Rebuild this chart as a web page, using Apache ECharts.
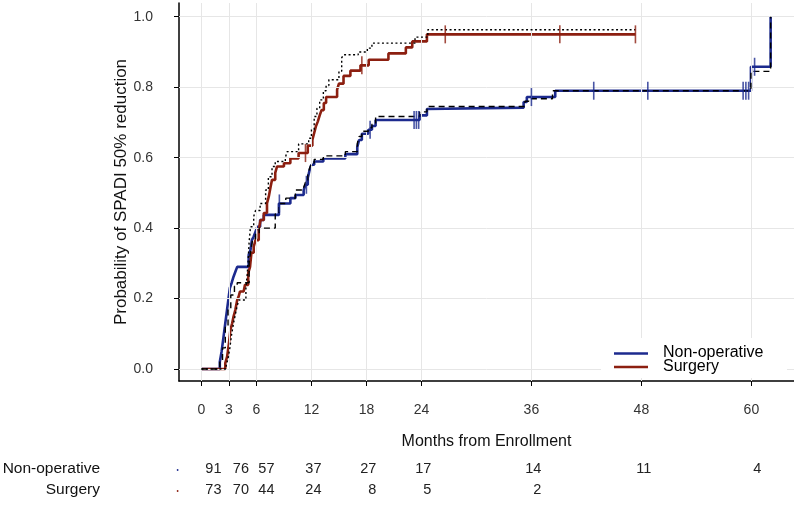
<!DOCTYPE html>
<html><head><meta charset="utf-8">
<script src="https://cdn.jsdelivr.net/npm/echarts@6/dist/echarts.min.js"></script>
<style>html,body{margin:0;padding:0;background:#fff}#c{width:794px;height:505px}</style>
</head><body><div id="c"></div>
<script>
// ---------- data ----------
const xTicks = [0, 3, 6, 12, 18, 24, 36, 48, 60];
const yTicks = [0, 0.2, 0.4, 0.6, 0.8, 1.0];

const nonopTime = [0, 2.0, 2.2, 2.4, 2.6, 2.8, 3.0, 3.1, 3.3, 3.5, 3.7, 3.9, 5.15, 5.35, 5.5, 5.7, 5.9, 6.1, 6.4, 6.8, 8.45, 9.7, 10.25, 11.15, 11.35, 11.6, 11.8, 12.0, 12.3, 13.3, 15.7, 17.0, 17.2, 17.5, 18.2, 18.6, 19.0, 23.8, 24.6, 24.8, 35.15, 35.5, 38.6, 59.95, 62.1];
const nonopProb = [0, 0.02, 0.05, 0.09, 0.13, 0.17, 0.21, 0.23, 0.245, 0.262, 0.276, 0.29, 0.324, 0.338, 0.366, 0.376, 0.39, 0.404, 0.423, 0.4375, 0.47, 0.485, 0.494, 0.508, 0.523, 0.542, 0.565, 0.58, 0.589, 0.598, 0.61, 0.63, 0.65, 0.668, 0.679, 0.69, 0.707, 0.72, 0.738, 0.742, 0.758, 0.772, 0.79, 0.858, 1.0];
const nonopCensor = [8.5, 11.45, 18.4, 23.2, 23.45, 23.7, 36.0, 42.8, 48.7, 59.1, 59.4, 59.7, 60.35];

const surgTime = [0, 2.6, 2.8, 3.0, 3.15, 3.35, 3.5, 3.7, 3.9, 4.05, 4.2, 4.6, 4.75, 5.1, 5.3, 5.45, 5.7, 5.9, 6.25, 6.45, 6.8, 7.15, 7.35, 7.55, 7.7, 8.05, 8.25, 9.0, 9.7, 10.6, 11.6, 12.1, 12.3, 12.5, 12.7, 12.9, 13.1, 13.35, 13.6, 14.8, 15.0, 15.5, 16.25, 17.35, 18.25, 20.4, 22.3, 23.0, 24.6, 47.35];
const surgProb = [0, 0.017, 0.035, 0.073, 0.11, 0.13, 0.149, 0.168, 0.196, 0.205, 0.22, 0.224, 0.239, 0.272, 0.29, 0.33, 0.347, 0.366, 0.395, 0.423, 0.443, 0.47, 0.49, 0.518, 0.537, 0.557, 0.575, 0.584, 0.598, 0.613, 0.634, 0.65, 0.67, 0.69, 0.703, 0.72, 0.735, 0.755, 0.772, 0.793, 0.81, 0.832, 0.847, 0.862, 0.878, 0.896, 0.913, 0.93, 0.95, 0.95];
const surgCensor = [11.35, 17.5, 26.6, 39.1, 47.35];

const adjNonopTime = [0, 2.0, 2.3, 2.6, 2.9, 3.2, 3.6, 3.9, 5.2, 5.4, 5.6, 5.9, 6.3, 8.05, 8.45, 9.2, 10.25, 11.15, 11.35, 11.6, 11.8, 12.0, 12.3, 13.3, 15.7, 17.0, 17.2, 17.5, 18.2, 18.6, 19.0, 23.8, 24.6, 35.3, 35.7, 38.3, 59.95, 62.1];
const adjNonopProb = [0, 0.02, 0.06, 0.12, 0.17, 0.21, 0.235, 0.245, 0.30, 0.34, 0.37, 0.385, 0.40, 0.44, 0.47, 0.485, 0.508, 0.515, 0.53, 0.55, 0.57, 0.585, 0.595, 0.605, 0.617, 0.64, 0.66, 0.675, 0.685, 0.695, 0.717, 0.73, 0.745, 0.76, 0.767, 0.79, 0.845, 1.0];

const adjSurgTime = [0, 2.7, 2.9, 3.1, 3.3, 3.5, 3.7, 3.9, 4.1, 4.85, 5.0, 5.1, 5.2, 5.35, 5.7, 5.9, 6.4, 7.0, 7.3, 7.7, 8.05, 9.15, 9.35, 10.6, 11.7, 12.0, 12.3, 12.6, 12.9, 13.3, 13.6, 13.9, 15.0, 15.3, 15.5, 17.1, 18.1, 18.6, 23.3, 24.7, 47.35];
const adjSurgProb = [0, 0.01, 0.03, 0.06, 0.10, 0.13, 0.155, 0.18, 0.196, 0.23, 0.27, 0.31, 0.36, 0.404, 0.433, 0.45, 0.47, 0.508, 0.546, 0.575, 0.589, 0.60, 0.617, 0.639, 0.655, 0.68, 0.717, 0.74, 0.764, 0.79, 0.805, 0.821, 0.845, 0.883, 0.892, 0.90, 0.911, 0.925, 0.942, 0.963, 0.963];

const groups = ['Non-operative', 'Surgery'];
const riskMonths = [0, 3, 6, 12, 18, 24, 36, 48, 60];
const nonopRisk = [91, 76, 57, 37, 27, 17, 14, 11, 4];
const surgRisk = [73, 70, 44, 24, 8, 5, 2];
const yTitle = 'Probability of SPADI 50% reduction';

// ---------- helpers ----------
const FONT = '"Liberation Sans", Arial, Helvetica, sans-serif';
const BLUE = '#1c2a8e', RED = '#8c1f10';
const COLORS = [BLUE, RED];
const pairs = (t, p) => t.map((v, i) => [v, p[i]]);
const stepAt = (t, p, x) => { let v = p[0]; for (let i = 0; i < t.length; i++) if (t[i] <= x) v = p[i]; return v; };

const chart = echarts.init(document.getElementById('c'), null, {renderer: 'canvas', width: 794, height: 505});

const option = {
  animation: false,
  backgroundColor: '#fff',
  grid: {left: 179, right: 0, top: 3, bottom: 124, containLabel: false},
  xAxis: {
    type: 'value', min: -2.45, max: 64.65,
    name: 'Months from Enrollment', nameLocation: 'middle', nameGap: 53,
    nameTextStyle: {fontFamily: FONT, fontSize: 16, color: '#111'},
    axisLine: {show: true, onZero: false, lineStyle: {color: '#000', width: 1.5}},
    axisTick: {show: true, customValues: xTicks, length: 5, lineStyle: {color: '#000', width: 1}},
    axisLabel: {customValues: xTicks, margin: 22, fontFamily: FONT, fontSize: 14, color: '#333'},
    splitLine: {show: false}
  },
  yAxis: {
    type: 'value', min: -0.034, max: 1.039,
    axisLine: {show: true, onZero: false, lineStyle: {color: '#000', width: 1.5}},
    axisTick: {show: true, customValues: yTicks, length: 5, lineStyle: {color: '#000', width: 1}},
    axisLabel: {customValues: yTicks, margin: 26, fontFamily: FONT, fontSize: 14, color: '#333',
      formatter: v => v.toFixed(1)},
    splitLine: {show: false}
  },
  series: [
    {
      name: 'grid', type: 'line', data: [], silent: true, z: 1,
      markLine: {
        silent: true, symbol: ['none', 'none'], animation: false, label: {show: false},
        lineStyle: {color: '#e6e6e6', width: 1, type: 'solid'},
        emphasis: {disabled: true},
        data: [...xTicks.map(v => ({xAxis: v})), ...yTicks.map(v => ({yAxis: v}))]
      }
    },
    {
      name: groups[0], type: 'line', step: 'end', data: pairs(nonopTime, nonopProb),
      showSymbol: false, symbol: 'none', color: BLUE, lineStyle: {color: BLUE, width: 2.6}, z: 3
    },
    {
      name: groups[1], type: 'line', step: 'end', data: pairs(surgTime, surgProb),
      showSymbol: false, symbol: 'none', color: RED, lineStyle: {color: RED, width: 2.6}, z: 4
    },
    {
      name: 'Non-operative adjusted', type: 'line', step: 'end', data: pairs(adjNonopTime, adjNonopProb),
      showSymbol: false, symbol: 'none', lineStyle: {color: '#000', width: 1.4, type: [6, 4]}, z: 5
    },
    {
      name: 'Surgery adjusted', type: 'line', step: 'end', data: pairs(adjSurgTime, adjSurgProb),
      showSymbol: false, symbol: 'none', lineStyle: {color: '#000', width: 1.4, type: [2, 2.5]}, z: 5
    },
    {
      name: 'Non-operative censored', type: 'scatter', symbol: 'rect', symbolSize: [1.6, 18],
      itemStyle: {color: BLUE}, z: 6,
      data: nonopCensor.map(t => [t, stepAt(nonopTime, nonopProb, t)])
    },
    {
      name: 'Surgery censored', type: 'scatter', symbol: 'rect', symbolSize: [1.6, 18],
      itemStyle: {color: RED}, z: 6,
      data: surgCensor.map(t => [t, stepAt(surgTime, surgProb, t)])
    }
  ]
};
chart.setOption(option);

// ---------- y title, legend + risk table ----------
const px = m => chart.convertToPixel({xAxisIndex: 0}, m);
const els = [];
const txt = (x, y, s, size, align, fill) => ({
  type: 'text', x: x, y: y, silent: true, z: 100,
  style: {text: s, font: size + 'px ' + FONT, fill: fill || '#111', align: align, verticalAlign: 'middle',
    textAlign: align, textVerticalAlign: 'middle'}
});
const yt = txt(121, 192, yTitle, 17, 'center', '#111');
yt.rotation = Math.PI / 2;
els.push(yt);
// legend box
els.push({type: 'rect', x: 601, y: 338, silent: true, z: 90, shape: {width: 186, height: 40}, style: {fill: '#fff'}});
const legY = [353.5, 367];
groups.forEach((g, r) => {
  els.push({type: 'line', silent: true, z: 95, shape: {x1: 614, y1: legY[r], x2: 648, y2: legY[r]},
    style: {stroke: COLORS[r], lineWidth: 2.6}});
  els.push(txt(663, legY[r] - 0.5, g, 16, 'left', '#000'));
});
// risk table
const rowY = [469, 490];
const nudge = [10, 10, 8, 0, 0, 0, 0, 0, 0];
groups.forEach((g, r) => els.push(txt(100, rowY[r], g, 15.5, 'right')));
[nonopRisk, surgRisk].forEach((arr, r) => {
  els.push({type: 'circle', x: px(-2.6), y: rowY[r] + 1, silent: true,
    shape: {r: 0.9}, style: {fill: COLORS[r]}});
  arr.forEach((n, i) => els.push(txt(px(riskMonths[i]) + 10 + nudge[i], rowY[r], String(n), 14.5, 'right', '#222')));
});
chart.setOption({graphic: {elements: els}});
</script></body></html>
